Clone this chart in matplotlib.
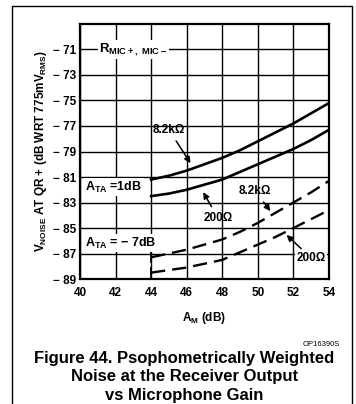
import numpy as np
import matplotlib
matplotlib.use("Agg")
import matplotlib.pyplot as plt
from matplotlib.lines import Line2D

plt.rcParams['font.family'] = ['Liberation Sans', 'DejaVu Sans']
plt.rcParams['font.weight'] = 'bold'
plt.rcParams['mathtext.fontset'] = 'custom'
plt.rcParams['mathtext.rm'] = 'Liberation Sans:bold'
plt.rcParams['mathtext.it'] = 'Liberation Sans:bold'
plt.rcParams['mathtext.bf'] = 'Liberation Sans:bold'
plt.rcParams['mathtext.default'] = 'rm'

# mic gain (dB)
gain = [44, 45, 46, 47, 48, 49, 50, 51, 52, 53, 54]
# A_TA = 1 dB
solid_8k2 = [-81.2, -80.9, -80.5, -80.0, -79.5, -78.9, -78.2, -77.5, -76.8,
             -76.0, -75.2]
solid_200 = [-82.5, -82.3, -82.0, -81.6, -81.2, -80.6, -80.0, -79.4, -78.8,
             -78.1, -77.3]
# A_TA = -7 dB
dash_8k2 = [-87.3, -87.0, -86.7, -86.3, -85.9, -85.3, -84.6, -83.8, -83.0,
            -82.2, -81.3]
dash_200 = [-88.5, -88.3, -88.1, -87.8, -87.5, -86.9, -86.3, -85.7, -85.0,
            -84.3, -83.6]

xticks = [40, 42, 44, 46, 48, 50, 52, 54]
yticks = [-71, -73, -75, -77, -79, -81, -83, -85, -87, -89]

fig = plt.figure(figsize=(3.56, 4.04), dpi=100)
ax = fig.add_axes([0.2247, 0.3094, 0.6994, 0.6312])

ax.set_xlim(40, 54)
ax.set_ylim(-89, -69)
ax.set_xticks(xticks)
ax.set_yticks(yticks)
ax.set_xticklabels([str(v) for v in xticks], fontsize=8.5, fontweight='bold')
ax.set_yticklabels(["\u2212 %d" % abs(v) for v in yticks], fontsize=8.5,
                   fontweight='bold')
ax.tick_params(axis='x', length=0, pad=6)
ax.tick_params(axis='y', length=0, pad=2.5)
ax.grid(True, color='black', linewidth=1.0)
for s in ax.spines.values():
    s.set_linewidth(1.6)

ax.plot(gain, solid_8k2, color='black', lw=1.9)
ax.plot(gain, solid_200, color='black', lw=1.9)
ax.plot(gain, dash_8k2, color='black', lw=1.7, dashes=(6, 3),
        marker='|', markevery=[0], ms=9, mew=1.3)
ax.plot(gain, dash_200, color='black', lw=1.7, dashes=(6, 3),
        marker='|', markevery=[0], ms=9, mew=1.3)

box = dict(facecolor='white', edgecolor='none', pad=1.0)
arr = dict(arrowstyle='-|>', color='black', lw=1.1, mutation_scale=9)

ax.text(43.0, -71.0, "R$_{MIC+,\\ MIC-}$", fontsize=9.5, ha='center',
        va='center', bbox=box)
ax.annotate("8.2k\u03a9", xy=(46.3, -80.1), xytext=(45.0, -77.3),
            fontsize=8.5, ha='center', va='center', arrowprops=arr)
ax.text(40.3, -81.8, "A$_{TA}$ =1dB", fontsize=9, ha='left', va='center',
        bbox=box)
ax.annotate("200\u03a9", xy=(46.85, -82.0), xytext=(47.75, -84.2),
            fontsize=8.5, ha='center', va='center', arrowprops=arr)
ax.annotate("8.2k\u03a9", xy=(50.8, -83.85), xytext=(49.85, -82.1),
            fontsize=8.5, ha='center', va='center', arrowprops=arr)
ax.text(40.3, -86.2, "A$_{TA}$ = \u2212 7dB", fontsize=9, ha='left',
        va='center', bbox=box)
ax.annotate("200\u03a9", xy=(51.5, -85.4), xytext=(53.0, -87.35),
            fontsize=8.5, ha='center', va='center', arrowprops=arr,
            bbox=box)

ax.set_xlabel("A$_M$ (dB)", fontsize=8.5, fontweight='bold', labelpad=8)
ax.set_ylabel("V$_{NOISE}$ AT QR + (dB WRT 775mV$_{RMS}$)", fontsize=8.5,
              fontweight='bold', labelpad=3)

fig.text(340 / 356, 1 - 345 / 404, "OP16390S", fontsize=5.5,
         fontweight='normal', ha='right', va='center')
fig.text(0.518, 1 - 377 / 404,
         "Figure 44. Psophometrically Weighted\n"
         "Noise at the Receiver Output\n"
         "vs Microphone Gain",
         fontsize=12, fontweight='bold', ha='center', va='center',
         linespacing=1.27)

# outer frame
xl, xr, yt = 12 / 356, 352 / 356, 1 - 6 / 404
fig.add_artist(Line2D([xl, xl, xr, xr], [0, yt, yt, 0], color='black',
                      lw=1.0, transform=fig.transFigure))

fig.savefig("out.png", dpi=100)
